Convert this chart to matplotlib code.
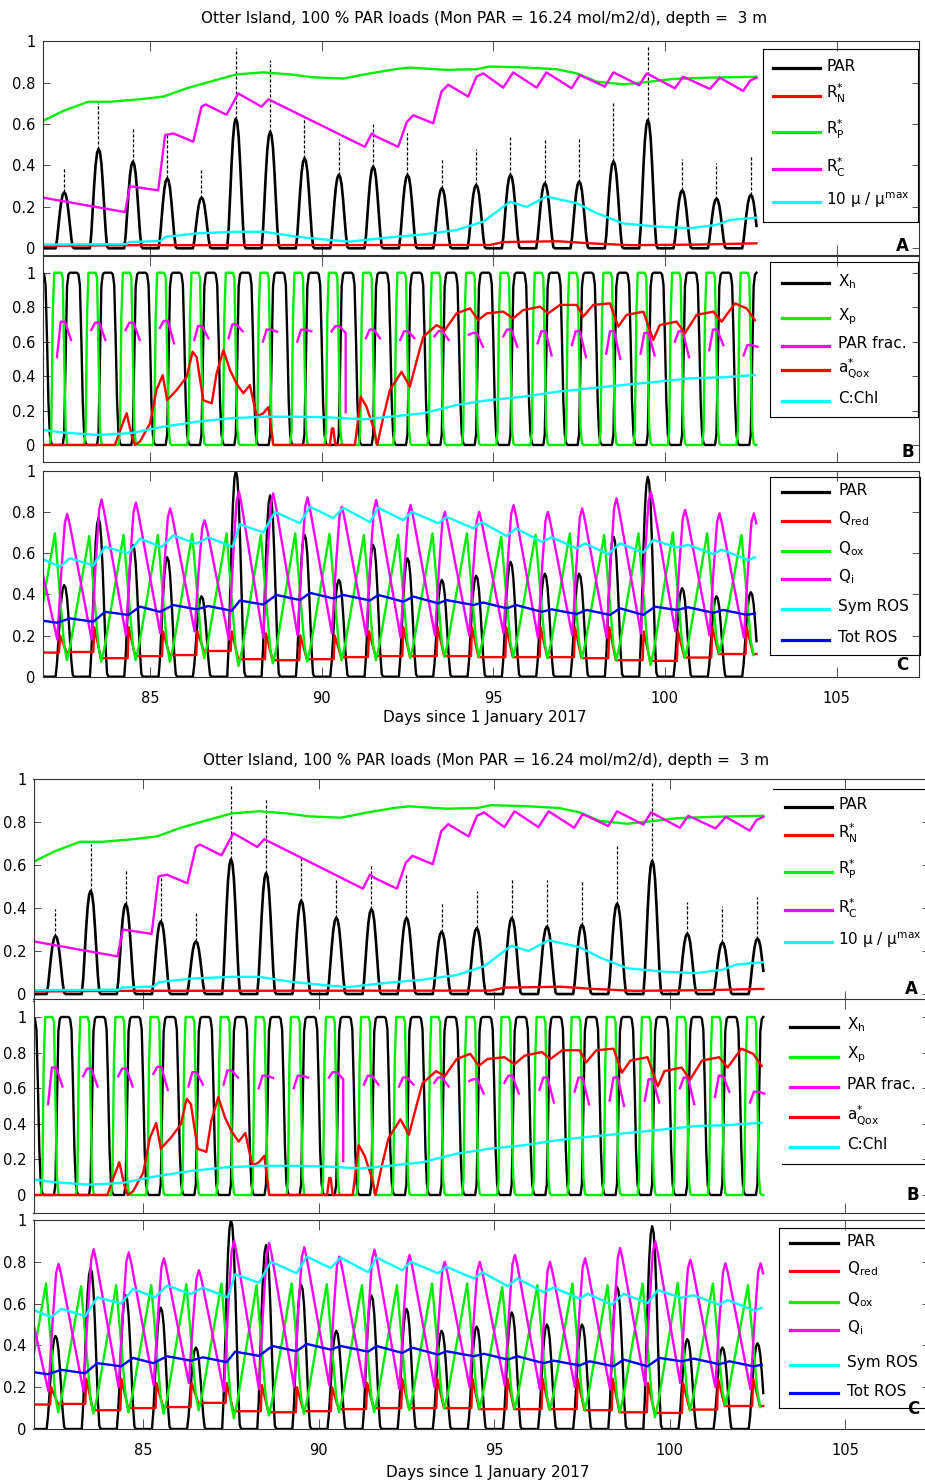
import numpy as np
import matplotlib
matplotlib.use('Agg')
import matplotlib.pyplot as plt
from matplotlib.lines import Line2D
from matplotlib.ticker import FuncFormatter

plt.rcParams['font.family'] = ['DejaVu Sans']
plt.rcParams['mathtext.default'] = 'regular'

FIG_W, FIG_H = 925, 1484

TITLE = 'Otter Island, 100 % PAR loads (Mon PAR = 16.24 mol/m2/d), depth =  3 m'
X_LABEL = 'Days since 1 January 2017'
X_LIMITS = (81.875, 107.4)
X_TICKS = [85, 90, 95, 100, 105]
Y_TICKS = [0, 0.2, 0.4, 0.6, 0.8, 1]

# simulation window and the days with a full light cycle
T_START, T_END = 81.875, 102.667
DAYS = list(range(82, 103))

# hourly profiles over one day (hour 0..23)
PAR_SHAPE = [0, 0, 0, 0, 0, 0, 0, 0.15, 0.40, 0.64, 0.84, 0.96,
             1.0, 0.97, 0.86, 0.66, 0.42, 0.18, 0.02, 0, 0, 0, 0, 0]
XH_SHAPE = [0.62, 0.25, 0.06, 0.01, 0, 0, 0, 0, 0, 0, 0, 0,
            0.06, 0.50, 0.92, 0.99, 1, 1, 1, 1, 1, 1, 0.99, 0.93]
XP_SHAPE = [0, 0, 0, 0.08, 0.75, 1, 1, 1, 1, 1, 1, 0.97,
            0.55, 0.10, 0.01, 0, 0, 0, 0, 0, 0, 0, 0, 0]

# panel A: PAR (solid daily pulse and the short-lived maxima above it)
PAR_A_BASE = [0.27, 0.48, 0.418, 0.338, 0.245, 0.627, 0.563, 0.435, 0.355, 0.395, 0.354,
              0.29, 0.306, 0.354, 0.314, 0.322, 0.42, 0.62, 0.28, 0.24, 0.258]
PAR_A_TOP = [0.395, 0.70, 0.58, 0.555, 0.378, 0.97, 0.91, 0.64, 0.53, 0.60, 0.555,
             0.43, 0.48, 0.54, 0.53, 0.53, 0.70, 0.98, 0.43, 0.41, 0.45]

RN_T = [81.875, 84.3, 94.9, 95.3, 96.9, 97.8, 99.0, 101.0, 102.667]
RN_V = [0.012, 0.015, 0.016, 0.03, 0.034, 0.024, 0.015, 0.018, 0.024]

RP_T = [81.875, 82.48, 83.2, 83.84, 84.71, 85.39, 86.07, 86.75, 87.52, 88.3, 89.08, 89.76,
        90.63, 91.41, 92.18, 92.57, 93.64, 94.51, 94.9, 95.87, 96.85, 97.43, 98.01, 98.79,
        99.56, 100.24, 101.21, 102.667]
RP_V = [0.615, 0.664, 0.708, 0.708, 0.72, 0.733, 0.773, 0.805, 0.84, 0.85, 0.84, 0.826,
        0.82, 0.845, 0.866, 0.873, 0.862, 0.865, 0.878, 0.874, 0.865, 0.845, 0.805, 0.792,
        0.805, 0.818, 0.824, 0.829]

RC_T = [81.875, 84.27, 84.42, 85.24, 85.44, 85.68, 86.26, 86.5, 86.62, 87.23, 87.57, 88.25,
        88.45, 91.26, 91.46, 91.6, 92.23, 92.48, 92.67, 93.25, 93.49, 93.69, 94.27, 94.51,
        94.71, 95.29, 95.58, 96.26, 96.55, 97.28, 97.52, 98.25, 98.5, 99.25, 99.47, 100.29,
        100.53, 101.31, 101.6, 102.28, 102.48, 102.667]
RC_V = [0.245, 0.175, 0.30, 0.28, 0.547, 0.555, 0.515, 0.684, 0.695, 0.645, 0.748, 0.684,
        0.72, 0.49, 0.555, 0.539, 0.49, 0.61, 0.643, 0.604, 0.757, 0.79, 0.733, 0.829,
        0.845, 0.776, 0.85, 0.776, 0.85, 0.773, 0.837, 0.781, 0.85, 0.788, 0.845, 0.773,
        0.829, 0.77, 0.824, 0.76, 0.81, 0.824]

MU_T = [81.875, 84.30, 84.40, 85.30, 85.45, 86.36, 87.52, 88.30, 89.27, 90.24, 90.83, 91.70,
        92.20, 92.96, 93.93, 94.71, 95.49, 95.97, 96.55, 97.43, 98.01, 98.79, 99.76, 100.73,
        101.50, 101.90, 102.667]
MU_V = [0.018, 0.02, 0.03, 0.035, 0.055, 0.072, 0.08, 0.08, 0.056, 0.04, 0.032, 0.048,
        0.056, 0.067, 0.088, 0.129, 0.225, 0.2, 0.25, 0.218, 0.17, 0.12, 0.105, 0.097,
        0.113, 0.137, 0.148]

# panel B
PF_START = [0.51, 0.667, 0.667, 0.68, 0.61, 0.62, 0.60, 0.60, 0.66, 0.62, 0.61,
            0.63, 0.64, 0.63, 0.59, 0.58, 0.53, 0.53, 0.60, 0.55, 0.52]
PF_PEAK = [0.716, 0.71, 0.71, 0.72, 0.69, 0.70, 0.67, 0.67, 0.69, 0.67, 0.66,
           0.66, 0.65, 0.67, 0.66, 0.66, 0.66, 0.65, 0.66, 0.67, 0.58]
PF_END = [0.61, 0.61, 0.61, 0.59, 0.62, 0.66, 0.658, 0.66, 0.65, 0.62, 0.62,
          0.61, 0.57, 0.57, 0.52, 0.51, 0.50, 0.52, 0.51, 0.58, 0.57]
PF_DROP = {90: 0.19}
PF_OFFSETS = [0.29, 0.40, 0.52, 0.70]

AQ_T = [81.875, 83.98, 84.12, 84.32, 84.47, 84.56, 84.71, 85.0, 85.19, 85.37,
        85.5, 85.78, 86.07, 86.24, 86.36, 86.55, 86.8, 86.94, 87.14, 87.33,
        87.52, 87.72, 87.91, 88.11, 88.3, 88.45, 88.59, 90.24, 90.3, 90.34,
        90.4, 90.97, 91.14, 91.31, 91.5, 91.62, 91.8, 91.99, 92.33, 92.57,
        92.77, 92.96, 93.35, 93.59, 93.93, 94.32, 94.56, 94.81, 95.29, 95.58,
        95.87, 96.36, 96.6, 96.94, 97.43, 97.62, 97.91, 98.4, 98.64, 98.88,
        99.37, 99.66, 99.85, 100.34, 100.58, 100.92, 101.41, 101.65, 102.04, 102.38,
        102.62]
AQ_V = [0.0, 0.0, 0.08, 0.184, 0.05, 0.0, 0.02, 0.125, 0.32, 0.405,
        0.26, 0.32, 0.396, 0.541, 0.51, 0.26, 0.242, 0.416, 0.55, 0.435,
        0.357, 0.3, 0.348, 0.165, 0.184, 0.22, 0.0, 0.0, 0.096, 0.096,
        0.0, 0.0, 0.28, 0.22, 0.106, 0.0, 0.165, 0.32, 0.425, 0.338,
        0.49, 0.628, 0.696, 0.667, 0.764, 0.793, 0.725, 0.764, 0.774, 0.735,
        0.783, 0.803, 0.764, 0.813, 0.813, 0.745, 0.813, 0.822, 0.687, 0.755,
        0.774, 0.61, 0.696, 0.716, 0.648, 0.755, 0.774, 0.716, 0.822, 0.793,
        0.725]

CC_T = [81.875, 82.48, 83.45, 84.42, 85.39, 86.36, 87.33, 88.3, 89.27, 90.24, 91.21, 91.99,
        92.96, 93.93, 94.9, 95.87, 96.85, 97.82, 98.79, 99.76, 100.73, 101.7, 102.62]
CC_V = [0.087, 0.072, 0.058, 0.068, 0.106, 0.135, 0.155, 0.164, 0.164, 0.16, 0.149, 0.164,
        0.184, 0.232, 0.261, 0.28, 0.309, 0.329, 0.348, 0.367, 0.387, 0.393, 0.406]

# panel C
PAR_C_PEAK = [0.445, 0.77, 0.64, 0.58, 0.39, 1.0, 0.88, 0.69, 0.47, 0.64, 0.575,
              0.47, 0.49, 0.558, 0.50, 0.50, 0.68, 0.97, 0.43, 0.39, 0.41]

QRED_BASE = [0.117, 0.12, 0.09, 0.10, 0.105, 0.125, 0.085, 0.08, 0.085, 0.095, 0.10,
             0.10, 0.10, 0.095, 0.095, 0.095, 0.09, 0.08, 0.077, 0.093, 0.11, 0.11]
QRED_TOP = [0.20, 0.24, 0.24, 0.22, 0.22, 0.22, 0.21, 0.20, 0.20, 0.22, 0.24,
            0.24, 0.24, 0.24, 0.24, 0.24, 0.24, 0.22, 0.22, 0.24, 0.24]
QRED_OFFSETS = [0.35, 0.38, 0.57]

QOX_START = 0.35
QOX_PEAK = [0.696, 0.683, 0.688, 0.688, 0.693, 0.696, 0.688, 0.696, 0.693, 0.688, 0.688,
            0.696, 0.696, 0.68, 0.688, 0.696, 0.688, 0.696, 0.70, 0.696, 0.688]
QOX_TROUGH = [0.08, 0.073, 0.08, 0.073, 0.09, 0.052, 0.065, 0.073, 0.08, 0.08, 0.09,
              0.097, 0.097, 0.097, 0.09, 0.09, 0.08, 0.056, 0.09, 0.114, 0.105]
QOX_OFFSETS = [0.23, 0.50, 0.58, 0.68]
QOX_FRACS = [1.0, 0.12, 0.0, 0.12]

QI_START = 0.50
QI_TROUGH = [0.18, 0.18, 0.20, 0.21, 0.22, 0.18, 0.19, 0.20, 0.21, 0.20, 0.19,
             0.20, 0.20, 0.21, 0.19, 0.20, 0.19, 0.21, 0.22, 0.20, 0.19]
QI_PEAK = [0.79, 0.86, 0.845, 0.817, 0.76, 0.90, 0.89, 0.87, 0.825, 0.858, 0.833,
           0.80, 0.80, 0.833, 0.80, 0.817, 0.866, 0.898, 0.81, 0.793, 0.793]
QI_OFFSETS = [0.30, 0.42, 0.52, 0.59, 0.66]
QI_FRACS = [0.0, 0.55, 0.93, 1.0, 0.92]

SYM_T = [81.875, 82.38, 82.67, 83.35, 83.69, 84.37, 84.71, 85.34, 85.68, 86.36, 86.70,
         87.41, 87.62, 88.30, 88.64, 89.37, 89.66, 90.34, 90.63, 91.41, 91.65, 92.38,
         92.62, 93.40, 93.64, 94.42, 94.66, 95.39, 95.66, 96.41, 96.70, 97.43, 97.67,
         98.35, 98.69, 99.37, 99.66, 100.34, 100.68, 101.41, 101.65, 102.43, 102.62]
SYM_V = [0.57, 0.535, 0.575, 0.54, 0.63, 0.60, 0.67, 0.63, 0.686, 0.646, 0.676,
         0.63, 0.74, 0.70, 0.80, 0.745, 0.825, 0.77, 0.82, 0.75, 0.82, 0.76,
         0.80, 0.745, 0.776, 0.72, 0.75, 0.683, 0.72, 0.655, 0.677, 0.623, 0.647,
         0.595, 0.647, 0.602, 0.664, 0.628, 0.64, 0.595, 0.617, 0.566, 0.58]

TOT_T = [81.875, 82.28, 82.67, 83.35, 83.69, 84.37, 84.71, 85.29, 85.68, 86.36, 86.70,
         87.38, 87.62, 88.30, 88.68, 89.37, 89.66, 90.34, 90.63, 91.41, 91.65, 92.38,
         92.67, 93.40, 93.64, 94.42, 94.71, 95.39, 95.66, 96.41, 96.70, 97.43, 97.72,
         98.40, 98.69, 99.37, 99.71, 100.34, 100.68, 101.41, 101.70, 102.38, 102.62]
TOT_V = [0.272, 0.262, 0.283, 0.267, 0.315, 0.30, 0.34, 0.315, 0.348, 0.327, 0.343,
         0.32, 0.37, 0.35, 0.397, 0.372, 0.407, 0.38, 0.397, 0.37, 0.397, 0.364,
         0.389, 0.356, 0.372, 0.348, 0.36, 0.332, 0.348, 0.315, 0.327, 0.304, 0.324,
         0.30, 0.332, 0.30, 0.34, 0.324, 0.337, 0.31, 0.324, 0.30, 0.307]

KEY_A = ['PAR', r'R$^{*}_{N}$', r'R$^{*}_{P}$', r'R$^{*}_{C}$', r'10 $\mu$ / $\mu^{max}$']
KEY_B = [r'X$_{h}$', r'X$_{p}$', 'PAR frac.', r'a$^{*}_{Qox}$', 'C:Chl']
KEY_C = ['PAR', r'Q$_{red}$', r'Q$_{ox}$', r'Q$_{i}$', 'Sym ROS', 'Tot ROS']

BLACK, RED, GREEN, MAGENTA, CYAN, BLUE = '#000000', '#ff0000', '#00ee00', '#ff00ff', '#00ffff', '#0000ff'
COLORS_A = [BLACK, RED, GREEN, MAGENTA, CYAN]
COLORS_B = [BLACK, GREEN, MAGENTA, RED, CYAN]
COLORS_C = [BLACK, RED, GREEN, MAGENTA, CYAN, BLUE]
LW = 1.7


def box(x0, y0, x1, y1):
    return [(x0, y0, x1, y0), (x1, y0, x1, y1), (x1, y1, x0, y1), (x0, y1, x0, y0)]


# page layout in pixels: the same figure appears twice, the lower one slightly larger
COPIES = [
    dict(left=42.7, px_day=34.33, title=(484.5, 18), xlabel=(485, 718),
         panels=[(41.3, 254.5), (255.5, 462.2), (470.7, 676.7)],
         letters=[(902, 246), (908, 452), (902, 665)],
         keys=[dict(rows=[68.3, 95.7, 131.7, 169.3, 201.7], line=(773, 820), text=826,
                    frame=box(763, 49, 918, 222)),
               dict(rows=[283.3, 318.3, 345.7, 370, 400.7], line=(782, 829), text=838,
                    frame=box(770, 262, 918, 417)),
               dict(rows=[492.3, 520.7, 550.7, 579, 609, 640], line=(782, 829), text=838,
                    frame=box(770, 477, 920, 655))]),
    dict(left=33.5, px_day=35.1, title=(486.5, 760.7), xlabel=(487.5, 1472),
         panels=[(779, 1000.5), (999.2, 1212.8), (1220, 1429)],
         letters=[(911, 989), (913, 1195), (913, 1409)],
         keys=[dict(rows=[806.7, 835, 871.7, 910, 941.7], line=(785, 832), text=838,
                    frame=[(773, 789.3, 925, 789.3)]),
               dict(rows=[1026.7, 1056.7, 1086.7, 1116.7, 1146.7], line=(790, 838), text=847,
                    frame=[(782, 1164.3, 925, 1164.3)]),
               dict(rows=[1243.3, 1271, 1301.7, 1330, 1365, 1393.3], line=(790, 838), text=847,
                    frame=[(779, 1227.7, 779, 1408.3), (779, 1227.7, 925, 1227.7),
                           (779, 1408.3, 925, 1408.3)])]),
]


def hourly_series(daily, shape):
    """
    daily amplitude times the hourly profile, on the hourly grid (first, partial day included)
    """
    grid_days = [81] + DAYS
    t = (np.array(grid_days)[:, None] + np.arange(24)[None, :] / 24.0).ravel()
    v = (np.array(daily, dtype=float)[:, None] * np.array(shape)[None, :]).ravel()
    keep = (t >= T_START - 1e-6) & (t <= T_END + 1e-6)
    return t[keep], v[keep]


def daily_knots(start, lows, highs, offsets, fracs):
    """
    knots of a diel oscillation between a daily low and a daily high
    """
    t, v = [T_START], [start]
    for day, lo, hi in zip(DAYS, lows, highs):
        for off, frac in zip(offsets, fracs):
            if day + off <= T_END:
                t.append(day + off)
                v.append(lo + frac * (hi - lo))
    return t, v


def qred_knots():
    t, v = [T_START], [QRED_BASE[0]]
    for i, day in enumerate(DAYS):
        t += [day + off for off in QRED_OFFSETS]
        v += [QRED_BASE[i], QRED_TOP[i], QRED_BASE[i + 1]]
    t.append(T_END)
    v.append(QRED_BASE[-1])
    return t, v


def par_frac_segments():
    t, v = [], []
    for i, day in enumerate(DAYS):
        values = [PF_START[i], PF_PEAK[i], PF_PEAK[i], PF_END[i]]
        t += [day + off for off in PF_OFFSETS]
        v += values
        if day in PF_DROP:
            t.append(day + PF_OFFSETS[-1])
            v.append(PF_DROP[day])
        t.append(np.nan)
        v.append(np.nan)
    return t, v


def style_axis(ax, ylim, show_xlabels):
    ax.set_xlim(X_LIMITS)
    ax.set_ylim(ylim)
    ax.set_xticks(X_TICKS)
    ax.set_yticks(Y_TICKS)
    ax.yaxis.set_major_formatter(FuncFormatter(lambda val, pos: '%g' % val))
    ax.tick_params(which='major', direction='in', top=True, right=True, width=0.6,
                   color='#333333', labelsize=10.5)
    ax.tick_params(axis='x', length=7, pad=10, labelbottom=show_xlabels)
    ax.tick_params(axis='y', length=5, pad=5)
    for spine in ax.spines.values():
        spine.set_linewidth(0.8)
        spine.set_color('#333333')


def draw_key(fig, labels, colors, key):
    x0, x1 = key['line']
    for label, color, y in zip(labels, colors, key['rows']):
        yf = 1 - y / FIG_H
        fig.add_artist(Line2D([x0 / FIG_W, x1 / FIG_W], [yf, yf], color=color, lw=2.3))
        fig.text(key['text'] / FIG_W, 1 - (y - 2) / FIG_H, label, ha='left', va='center',
                 fontsize=11)
    for sx0, sy0, sx1, sy1 in key['frame']:
        fig.add_artist(Line2D([sx0 / FIG_W, sx1 / FIG_W], [1 - sy0 / FIG_H, 1 - sy1 / FIG_H],
                              color='k', lw=0.8))


def draw_model_figure(fig, geo):
    left = geo['left']
    right = left + (X_LIMITS[1] - X_LIMITS[0]) * geo['px_day']
    axes = []
    for top, bottom in geo['panels']:
        axes.append(fig.add_axes([left / FIG_W, 1 - bottom / FIG_H,
                                  (right - left) / FIG_W, (bottom - top) / FIG_H]))
    ax_a, ax_b, ax_c = axes

    # (A) light and the nutrient / carbon status
    t, v = hourly_series([0.0] + PAR_A_BASE, PAR_SHAPE)
    ax_a.plot(t, v, color=BLACK, lw=1.9)
    ax_a.vlines(np.array(DAYS) + 0.5, PAR_A_BASE, PAR_A_TOP, colors=BLACK, lw=0.9,
                linestyles=(0, (2.5, 1.5)))
    ax_a.plot(RN_T, RN_V, color=RED, lw=LW)
    ax_a.plot(RP_T, RP_V, color=GREEN, lw=LW)
    ax_a.plot(RC_T, RC_V, color=MAGENTA, lw=LW)
    ax_a.plot(MU_T, MU_V, color=CYAN, lw=LW)
    style_axis(ax_a, (-0.03, 1.0), False)

    # (B) photosystem states
    t, v = hourly_series([1.0] * (len(DAYS) + 1), XH_SHAPE)
    ax_b.plot(t, v, color=BLACK, lw=LW)
    t, v = hourly_series([1.0] * (len(DAYS) + 1), XP_SHAPE)
    ax_b.plot(t, v, color=GREEN, lw=LW)
    t, v = par_frac_segments()
    ax_b.plot(t, v, color=MAGENTA, lw=LW)
    ax_b.plot(AQ_T, AQ_V, color=RED, lw=LW)
    ax_b.plot(CC_T, CC_V, color=CYAN, lw=LW)
    style_axis(ax_b, (-0.1, 1.1), False)

    # (C) quinone pool and ROS
    t, v = hourly_series([0.0] + PAR_C_PEAK, PAR_SHAPE)
    ax_c.plot(t, v, color=BLACK, lw=LW)
    t, v = qred_knots()
    ax_c.plot(t, v, color=RED, lw=LW)
    t, v = daily_knots(QOX_START, QOX_TROUGH, QOX_PEAK, QOX_OFFSETS, QOX_FRACS)
    ax_c.plot(t, v, color=GREEN, lw=LW)
    t, v = daily_knots(QI_START, QI_TROUGH, QI_PEAK, QI_OFFSETS, QI_FRACS)
    ax_c.plot(t, v, color=MAGENTA, lw=LW)
    ax_c.plot(SYM_T, SYM_V, color=CYAN, lw=LW)
    ax_c.plot(TOT_T, TOT_V, color=BLUE, lw=LW)
    style_axis(ax_c, (0.0, 1.0), True)

    fig.text(geo['title'][0] / FIG_W, 1 - geo['title'][1] / FIG_H, TITLE,
             ha='center', va='center', fontsize=11)
    fig.text(geo['xlabel'][0] / FIG_W, 1 - geo['xlabel'][1] / FIG_H, X_LABEL,
             ha='center', va='center', fontsize=11)

    for labels, colors, key in zip([KEY_A, KEY_B, KEY_C], [COLORS_A, COLORS_B, COLORS_C], geo['keys']):
        draw_key(fig, labels, colors, key)
    for letter, (x, y) in zip('ABC', geo['letters']):
        fig.text(x / FIG_W, 1 - y / FIG_H, letter, ha='center', va='center',
                 fontsize=12, fontweight='bold')


fig = plt.figure(figsize=(FIG_W / 100, FIG_H / 100), dpi=100)
for geo in COPIES:
    draw_model_figure(fig, geo)
fig.savefig('out.png', dpi=100)
